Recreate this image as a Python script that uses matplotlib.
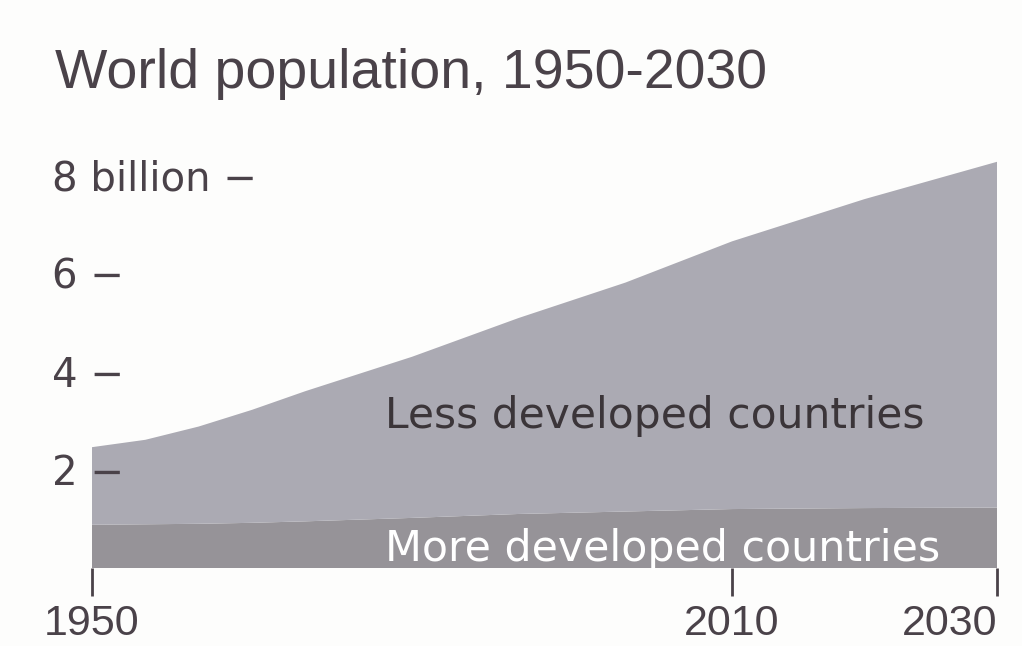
import matplotlib.pyplot as plt
import numpy as np

plt.rcParams['font.family'] = ['Liberation Sans', 'DejaVu Sans']

# (billions)
years = [1950, 1955, 1960, 1965, 1970, 1980, 1990, 2000, 2010, 2020, 2030]
more_developed = [0.88, 0.89, 0.90, 0.92, 0.95, 1.02, 1.10, 1.15, 1.20, 1.22, 1.23]
less_developed = [1.58, 1.72, 1.98, 2.30, 2.65, 3.28, 3.99, 4.66, 5.45, 6.29, 7.04]

y_ticks = [2, 4, 6, 8]
y_labels = ["2 \u2212", "4 \u2212", "6 \u2212", "8 billion \u2212"]
x_ticks = [1950, 2010, 2030]

text_col = "#4a4249"
light = "#abaab3"
dark = "#969398"

# the original x axis is squeezed after 2010
yr_pts = [1900, 1950, 2010, 2030, 2080]
px_pts = [-533.3, 0, 640, 905, 1567.5]

def fwd(x):
    return np.interp(x, yr_pts, px_pts)

def inv(p):
    return np.interp(p, px_pts, yr_pts)

fig = plt.figure(figsize=(10.22, 6.46), dpi=100)
fig.patch.set_facecolor("#fdfdfc")
ax = fig.add_axes([92 / 1022, (646 - 568) / 646, (997 - 92) / 1022, (568 - 150) / 646])
ax.set_facecolor("none")
ax.set_xscale("function", functions=(fwd, inv))

ax.stackplot(years, more_developed, less_developed, colors=[dark, light], linewidth=0)

ax.set_xlim(1950, 2030)
ax.set_ylim(0, 8.51)

for s in ax.spines.values():
    s.set_visible(False)

ax.set_yticks(y_ticks, labels=y_labels)
ax.tick_params(axis="y", length=0, pad=29, labelsize=29, labelcolor=text_col)
for lab in ax.get_yticklabels():
    lab.set_horizontalalignment("left")
    lab.set_family("DejaVu Sans")

ax.set_xticks(x_ticks, labels=[str(x) for x in x_ticks])
ax.tick_params(axis="x", length=20, width=2, color=text_col, pad=6,
               labelsize=31, labelcolor=text_col)
ax.get_xticklabels()[-1].set_horizontalalignment("right")

ax.text(1977.5, 2.85, "Less developed countries", fontsize=30.5, color="#3b3539",
        va="baseline", ha="left", family="DejaVu Sans")
ax.text(1977.5, 0.14, "More developed countries", fontsize=30.8, color="white",
        va="baseline", ha="left", family="DejaVu Sans")

fig.text(55 / 1022, 1 - 88 / 646, "World population, 1950-2030", fontsize=40,
         color=text_col, va="baseline", ha="left")

fig.savefig("out.png", dpi=100, facecolor=fig.get_facecolor())
